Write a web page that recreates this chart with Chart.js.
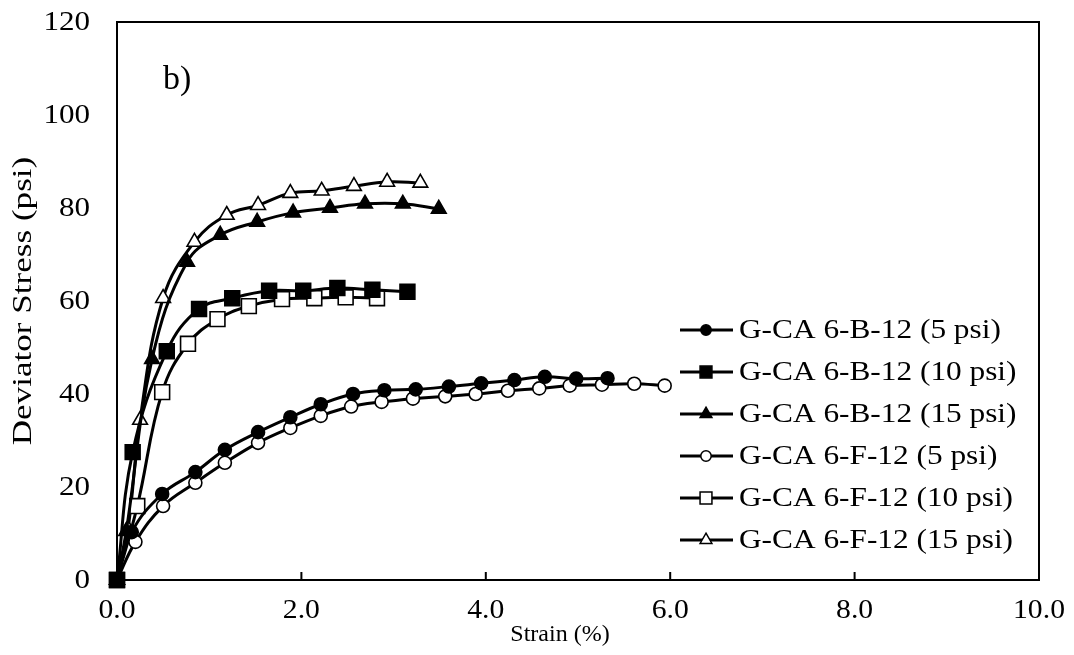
<!DOCTYPE html>
<html>
<head>
<meta charset="utf-8">
<script src="https://cdn.jsdelivr.net/npm/chart.js@4/dist/chart.umd.min.js"></script>
<style>
  html, body { margin: 0; background: #fff; }
  #wrap { width: 1074px; height: 655px; }
</style>
</head>
<body>
<div id="wrap"><canvas id="chart"></canvas></div>
<script>
// series values (strain %, deviator stress psi)
const b5Strain  = [0, 0.16, 0.49, 0.85, 1.17, 1.53, 1.88, 2.21, 2.56, 2.90, 3.24, 3.60, 3.95, 4.31, 4.64, 4.98, 5.32];
const b5Stress  = [0, 10.3, 18.5, 23.2, 28.0, 31.8, 35.0, 37.8, 40.0, 40.8, 41.0, 41.6, 42.3, 43.0, 43.7, 43.3, 43.4];
const b10Strain = [0, 0.17, 0.54, 0.89, 1.25, 1.65, 2.02, 2.39, 2.77, 3.15];
const b10Stress = [0, 27.5, 49.2, 58.3, 60.6, 62.2, 62.2, 62.8, 62.4, 62.0];
const b15Strain = [0, 0.10, 0.38, 0.76, 1.12, 1.52, 1.91, 2.31, 2.69, 3.10, 3.49];
const b15Stress = [0, 10.5, 47.5, 68.4, 74.2, 77.0, 79.0, 80.0, 80.9, 80.9, 79.8];
const f5Strain  = [0, 0.20, 0.50, 0.85, 1.17, 1.53, 1.88, 2.21, 2.54, 2.87, 3.21, 3.56, 3.89, 4.24, 4.58, 4.91, 5.26, 5.61, 5.94];
const f5Stress  = [0, 8.2, 15.9, 20.9, 25.2, 29.5, 32.7, 35.3, 37.3, 38.3, 39.0, 39.5, 40.0, 40.7, 41.2, 41.8, 42.0, 42.2, 41.8];
const f10Strain = [0, 0.22, 0.49, 0.77, 1.09, 1.43, 1.79, 2.14, 2.48, 2.82];
const f10Stress = [0, 15.9, 40.4, 50.8, 56.1, 58.9, 60.4, 60.6, 60.8, 60.6];
const f15Strain = [0, 0.12, 0.25, 0.50, 0.84, 1.19, 1.53, 1.88, 2.22, 2.57, 2.93, 3.29];
const f15Stress = [0, 11.0, 34.4, 60.6, 72.7, 78.5, 80.6, 83.2, 83.7, 84.7, 85.6, 85.4];

const seriesNames = [
  'G-CA 6-B-12 (5 psi)', 'G-CA 6-B-12 (10 psi)', 'G-CA 6-B-12 (15 psi)',
  'G-CA 6-F-12 (5 psi)', 'G-CA 6-F-12 (10 psi)', 'G-CA 6-F-12 (15 psi)'
];
const xTicks = [0, 2, 4, 6, 8, 10];
const yTicks = [0, 20, 40, 60, 80, 100, 120];
const xTitle = 'Strain (%)';
const yTitle = 'Deviator Stress (psi)';
const panelLabel = 'b)';

const FONT = '"Liberation Serif", "Times New Roman", serif';

function pts(xs, ys) {
  return xs.map((x, i) => ({ x: x, y: ys[i] }));
}

// marker style per series
const styles = [
  { shape: 'circle',   fill: '#000', r: 6.5 },
  { shape: 'rect',     fill: '#000', r: 10.5 },
  { shape: 'triangle', fill: '#000', r: 8.5 },
  { shape: 'circle',   fill: '#fff', r: 6.5 },
  { shape: 'rect',     fill: '#fff', r: 10.5 },
  { shape: 'triangle', fill: '#fff', r: 8.5 }
];
const allData = [
  pts(b5Strain, b5Stress), pts(b10Strain, b10Stress), pts(b15Strain, b15Stress),
  pts(f5Strain, f5Stress), pts(f10Strain, f10Stress), pts(f15Strain, f15Stress)
];

const datasets = allData.map((d, i) => ({
  label: seriesNames[i],
  data: d,
  showLine: true,
  tension: 0.4,
  clip: false,
  borderColor: '#000',
  borderWidth: 3,
  pointStyle: styles[i].shape,
  pointRadius: styles[i].r,
  pointBackgroundColor: styles[i].fill,
  pointBorderColor: '#000',
  pointBorderWidth: 1.6,
  order: i === 1 ? 0 : i + 1
}));

// the figure's text is a bit wider than the font, so stretch it
function stretchedText(ctx, text, x, y, sx, align) {
  const w = ctx.measureText(text).width * sx;
  let left = x;
  if (align === 'center') left = x - w / 2;
  if (align === 'right') left = x - w;
  ctx.save();
  ctx.translate(left, y);
  ctx.scale(sx, 1);
  ctx.textAlign = 'left';
  ctx.fillText(text, 0, 0);
  ctx.restore();
}

// frame, inner ticks, tick labels, titles and legend
const decorations = {
  id: 'decorations',
  beforeDatasetsDraw(chart) {
    const ctx = chart.ctx;
    const a = chart.chartArea;
    const xs = chart.scales.x;
    ctx.save();
    ctx.strokeStyle = '#000';
    ctx.lineWidth = 2;
    ctx.strokeRect(a.left, a.top, a.right - a.left, a.bottom - a.top);
    ctx.beginPath();
    xTicks.forEach(v => {
      const px = xs.getPixelForValue(v);
      ctx.moveTo(px, a.bottom);
      ctx.lineTo(px, a.bottom - 8);
    });
    ctx.stroke();
    ctx.restore();
  },
  afterDraw(chart) {
    const ctx = chart.ctx;
    const a = chart.chartArea;
    const xs = chart.scales.x;
    const ys = chart.scales.y;
    ctx.save();
    ctx.strokeStyle = '#000';
    ctx.fillStyle = '#000';

    ctx.textBaseline = 'middle';
    ctx.font = '27px ' + FONT;
    yTicks.forEach(v => {
      stretchedText(ctx, String(v), a.left - 27, ys.getPixelForValue(v) + 1, 1.15, 'right');
    });
    xTicks.forEach(v => {
      stretchedText(ctx, v.toFixed(1), xs.getPixelForValue(v), a.bottom + 31, 1.1, 'center');
    });

    ctx.font = '24px ' + FONT;
    stretchedText(ctx, xTitle, 560, a.bottom + 55, 1.0, 'center');

    ctx.save();
    ctx.translate(24, (a.top + a.bottom) / 2);
    ctx.rotate(-Math.PI / 2);
    ctx.font = '27px ' + FONT;
    stretchedText(ctx, yTitle, 0, 0, 1.3, 'center');
    ctx.restore();

    ctx.font = '34px ' + FONT;
    stretchedText(ctx, panelLabel, xs.getPixelForValue(0.5), ys.getPixelForValue(107.5), 1.0, 'left');

    // legend
    const rowY = [330, 372, 414, 456, 498, 540];
    ctx.font = '27px ' + FONT;
    styles.forEach((s, i) => {
      const y = rowY[i];
      ctx.lineWidth = 3;
      ctx.beginPath();
      ctx.moveTo(680, y);
      ctx.lineTo(733, y);
      ctx.stroke();
      ctx.fillStyle = s.fill;
      ctx.lineWidth = 1.5;
      Chart.helpers.drawPoint(ctx, {
        pointStyle: s.shape, radius: s.r * 0.8, borderWidth: 1.5
      }, 706, y);
      ctx.fillStyle = '#000';
      stretchedText(ctx, seriesNames[i], 739, y + 1, 1.16, 'left');
    });
    ctx.restore();
  }
};

function makeChart() {
  new Chart(document.getElementById('chart'), {
    type: 'scatter',
    data: { datasets: datasets },
    options: {
      responsive: true,
      maintainAspectRatio: false,
      animation: false,
      layout: { padding: { top: 22, right: 35, left: 0, bottom: 0 } },
      plugins: { legend: { display: false }, tooltip: { enabled: false } },
      scales: {
        x: {
          type: 'linear',
          min: 0, max: 10,
          afterBuildTicks(scale) { scale.ticks = xTicks.map(v => ({ value: v })); },
          afterFit(scale) { scale.height = 75; },
          grid: { display: false, drawTicks: false },
          border: { display: false },
          ticks: { display: false }
        },
        y: {
          min: 0, max: 120,
          afterBuildTicks(scale) { scale.ticks = yTicks.map(v => ({ value: v })); },
          afterFit(scale) { scale.width = 117; },
          grid: { display: false, drawTicks: false },
          border: { display: false },
          ticks: { display: false }
        }
      }
    },
    plugins: [decorations]
  });
}

// make sure the serif face is ready before drawing text on the canvas
document.fonts.load('27px "Liberation Serif"').then(makeChart, makeChart);
</script>
</body>
</html>
